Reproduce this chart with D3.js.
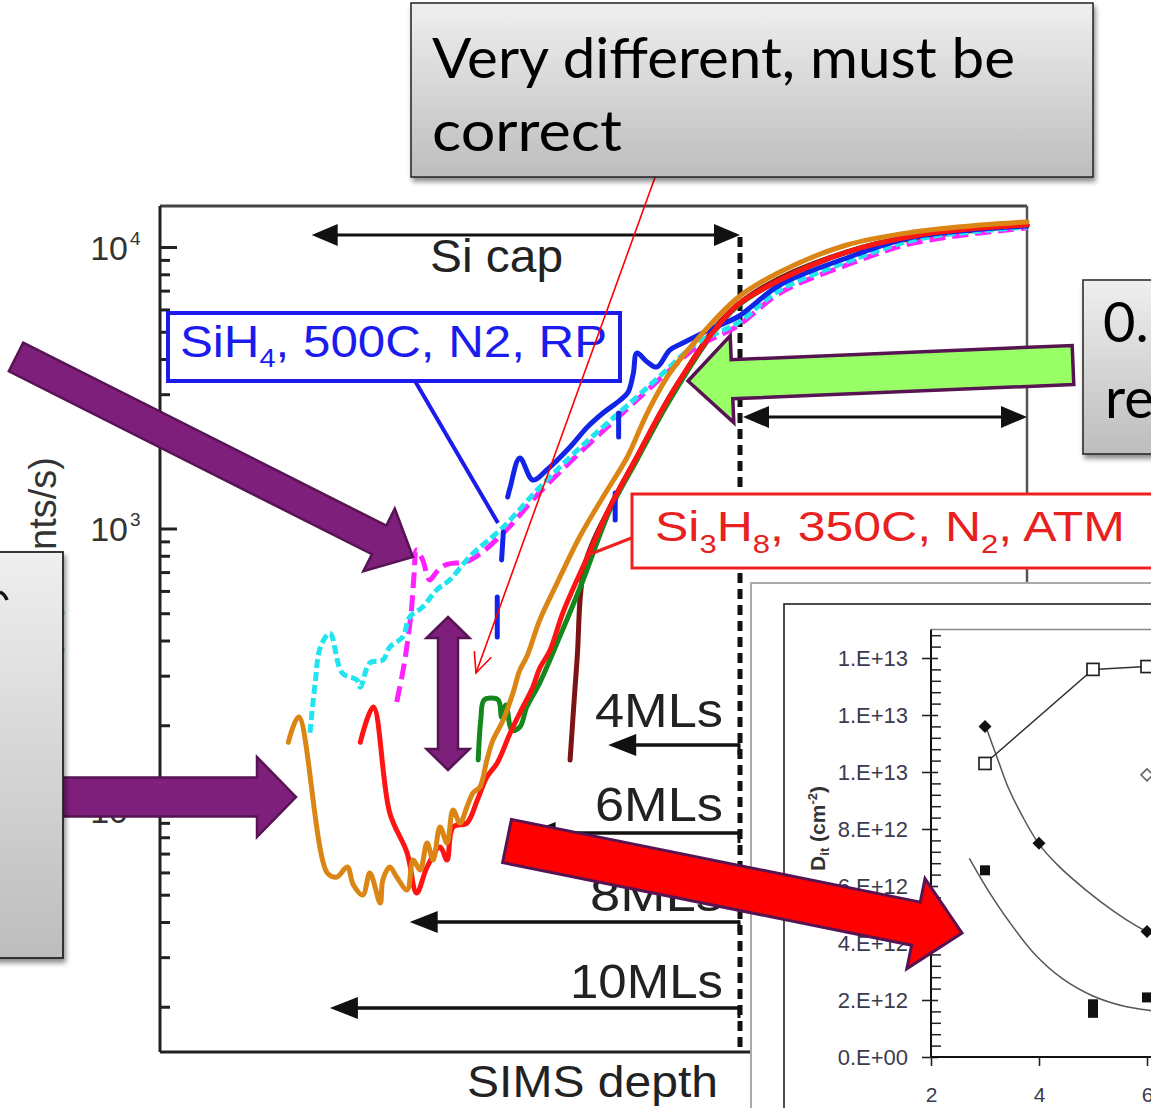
<!DOCTYPE html>
<html><head><meta charset="utf-8">
<script src="https://cdn.jsdelivr.net/npm/d3@7"></script>
<style>
html,body{margin:0;padding:0;background:#fff;overflow:hidden}
svg{display:block}
</style></head><body>
<svg id="c" width="1151" height="1108"></svg>
<script>
// ---------- SIMS profiles: [depth (a.u.), intensity (counts/s)] ----------
const orangeProfile = [[14.8,174],[16.0,214],[19.3,59.7],[20.4,57.8],[21.6,62.7],[22.3,54.2],[23.4,49.9],[24.2,59.7],[25.4,46.7],[25.7,56.4],[26.5,62.7],[27.3,57.8],[28.5,52.0],[29.2,66.4],[30.0,61.2],[30.8,76.4],[31.5,66.4],[32.3,87.0],[33.1,76.4],[33.8,100],[34.6,89.9],[35.4,102.5],[36.1,115],[36.9,120.7],[37.7,150.5],[38.4,177],[39.6,209],[40.7,260],[41.5,314],[42.3,350],[43.8,473],[45.8,640],[48.4,933],[51.1,1294],[53.9,1795],[56.2,2572],[58.8,3567],[61.9,4673],[66.6,6590],[71.5,8152],[79.2,10165],[86.9,11305],[94.6,11974],[100,12270]];
const redProfile = [[23.1,174],[24.6,232],[26.5,97.6],[28.5,70.4],[29.6,50.7],[30.8,62.7],[32.3,73.9],[33.1,66.4],[33.8,87.0],[35.4,89.9],[36.6,108.5],[37.7,131],[38.9,147],[40.4,188],[41.5,221],[43.0,273],[43.8,319],[45.0,370],[46.5,505],[49.3,792],[51.9,1192],[55.0,1795],[57.7,2572],[59.6,3234],[61.1,3809],[63.8,4989],[66.6,6223],[71.5,7633],[79.2,9598],[86.9,10945],[94.6,11680],[100,11974]];
const greenProfile = [[36.7,150.5],[37.0,209],[37.4,246],[39.0,246],[39.4,214],[39.9,236],[40.6,192],[41.5,197],[42.3,232],[43.8,283],[46.1,412],[48.8,656],[51.9,1164],[55.0,1752],[58.8,2861],[63.8,4950],[66.6,6172],[71.5,7633],[79.2,9598],[86.9,10945],[100,11974]];
const maroonProfile = [[47.3,150.5],[48.1,341],[49.0,742],[51.9,1192],[55.0,1795],[59.6,3234],[66.6,6223],[79.2,9598],[100,11974]];
const magentaProfile = [[27.3,242],[28.0,309],[28.5,386],[29.0,513],[29.3,684],[29.6,839],[30.3,773],[31.1,656],[31.9,701],[32.9,742],[35.8,773],[39.6,964],[43.5,1315],[47.3,1723],[51.1,2221],[55.0,2861],[58.8,3656],[61.9,4415],[66.6,5240],[71.5,6865],[79.2,8630],[86.9,10330],[100,11680]];
const cyanProfile = [[17.3,188],[17.9,283],[18.5,379],[19.6,425],[21.0,307],[22.7,290],[23.1,273],[24.2,333],[25.7,341],[26.5,379],[28.0,412],[28.8,485],[30.3,526],[31.9,605],[33.4,656],[35.8,799],[39.6,1012],[43.5,1370],[47.3,1795],[51.1,2294],[55.0,2932],[58.8,3747],[61.9,4560],[66.6,5370],[71.5,7034],[79.2,8845],[86.9,10590],[94.6,11400],[100,11780]];
// null marks a gap in the recorded trace
const blueProfile = [[38.9,412],[38.9,571],null,[39.4,773],[39.6,972],null,[40.1,1294],[40.4,1404],[41.5,1780],[43.0,1487],[44.6,1614],[47.3,1948],[49.3,2294],[51.1,2572],[53.1,2861],[54.0,3054],[54.6,3567],[55.0,4201],[56.2,3904],[57.3,3747],[58.8,4305],[60.3,4560],[63.8,5157],[66.6,5640],[71.5,7328],[79.2,9140],[86.9,10850],[100,11870],null,[52.9,2572],[52.9,2113],null,[52.5,1337],[52.5,1072]];

const yMajor = [100, 1000, 10000];
const yExponents = ["2", "3", "4"];
const mlLabels = ["4MLs", "6MLs", "8MLs", "10MLs"];
const mlDepth = [51.7, 42.4, 28.8, 19.6];
const capStartDepth = 17.5, capEndDepth = 66.9;

// ---------- Dit inset: [monolayers, Dit (cm^-2)] ----------
const insetOpenSq = [[3,10.3e12],[5,13.6e12],[6,13.7e12]];
const insetFilledDiamond = [[3,11.6e12],[4,7.5e12],[6,4.4e12]];
const insetOpenDiamond = [[6,9.9e12]];
const insetFilledSq = [[3,6.55e12],[5,1.85e12],[5,1.55e12],[6,2.09e12]];
const insetFitDiamond = [[3.02,11.58e12],[3.25,10.37e12],[3.44,9.41e12],[3.69,8.46e12],[4.0,7.47e12],[4.38,6.67e12],[4.88,5.84e12],[5.38,5.12e12],[5.81,4.59e12],[6.03,4.37e12],[6.3,4.1e12]];
const insetFitSq = [[2.71,6.97e12],[3.06,5.84e12],[3.44,4.77e12],[3.94,3.57e12],[4.44,2.74e12],[5.0,2.14e12],[5.56,1.79e12],[6.14,1.61e12],[6.4,1.55e12]];
const insetYTicks = [0,2e12,4e12,6e12,8e12,10e12,12e12,14e12];
const insetYLabels = ["0.E+00","2.E+12","4.E+12","6.E+12","8.E+12","1.E+13","1.E+13","1.E+13"];
const insetXTicks = [2,4,6,8];

const FONT = "'Liberation Sans', Arial, sans-serif";
const svg = d3.select("#c");
const defs = svg.append("defs");
const g1 = defs.append("linearGradient").attr("id","boxg").attr("x1",0).attr("y1",0).attr("x2",0).attr("y2",1);
g1.append("stop").attr("offset","0%").attr("stop-color","#efefef");
g1.append("stop").attr("offset","100%").attr("stop-color","#bdbdbd");
defs.append("filter").attr("id","sh").attr("x","-5%").attr("y","-5%").attr("width","115%").attr("height","125%")
  .append("feDropShadow").attr("dx",2).attr("dy",4).attr("stdDeviation",2.5).attr("flood-color","#000").attr("flood-opacity",0.45);

svg.append("rect").attr("width",1151).attr("height",1108).attr("fill","#fff");

// ---------- main scales ----------
const x = d3.scaleLinear().domain([0,100]).range([160,1027]);
const y = d3.scaleLog().domain([13.81,13986]).range([1052,206]);

// y-axis title (mostly covered by the text box on the left)
svg.append("text").attr("transform","translate(56,457) rotate(-90)")
  .attr("text-anchor","end").attr("font-family",FONT).attr("font-size",38).attr("fill","#333")
  .text("Intensity (counts/s)");

// frame
const frame = svg.append("g").attr("stroke","#222").attr("stroke-width",3);
frame.append("line").attr("x1",160).attr("y1",206).attr("x2",1027).attr("y2",206).attr("stroke","#444");
frame.append("line").attr("x1",160).attr("y1",206).attr("x2",160).attr("y2",1052);
frame.append("line").attr("x1",1027).attr("y1",206).attr("x2",1027).attr("y2",590).attr("stroke","#555").attr("stroke-width",2.5);
frame.append("line").attr("x1",160).attr("y1",1052).attr("x2",751).attr("y2",1052);

// y ticks (log)
const yMinor = [];
[10,100,1000].forEach(b => { for (let m=2;m<=9;m++){ const v=m*b; if (v>y.domain()[0] && v<y.domain()[1]) yMinor.push(v);} });
const axMinor = svg.append("g").attr("transform","translate(160,0)")
  .call(d3.axisRight(y).tickValues(yMinor).tickSize(10).tickFormat(""));
const axMajor = svg.append("g").attr("transform","translate(160,0)")
  .call(d3.axisRight(y).tickValues(yMajor).tickSize(17).tickFormat(""));
[axMinor, axMajor].forEach(a => { a.select(".domain").remove(); a.selectAll("line").attr("stroke","#222").attr("stroke-width",3); });
yMajor.forEach((v,i) => {
  svg.append("text").attr("x",128).attr("y",y(v)+13).attr("text-anchor","end")
    .attr("font-family",FONT).attr("font-size",34).attr("fill","#333").text("10");
  svg.append("text").attr("x",130).attr("y",y(v)-2).attr("font-family",FONT).attr("font-size",19).attr("fill","#333").text(yExponents[i]);
});

// arrow helper: polygon with shaft width sw, head width hw, head length hl
function arrowPts(x0,y0,x1,y1,sw,hw,hl,dbl){
  const dx=x1-x0, dy=y1-y0, L=Math.hypot(dx,dy), ux=dx/L, uy=dy/L, nx=-uy, ny=ux;
  const P=(px,py,n)=>[px+nx*n, py+ny*n];
  const b1x=x1-ux*hl, b1y=y1-uy*hl;
  let pts;
  if (dbl){
    const b0x=x0+ux*hl, b0y=y0+uy*hl;
    pts=[[x0,y0],P(b0x,b0y,-hw/2),P(b0x,b0y,-sw/2),P(b1x,b1y,-sw/2),P(b1x,b1y,-hw/2),[x1,y1],P(b1x,b1y,hw/2),P(b1x,b1y,sw/2),P(b0x,b0y,sw/2),P(b0x,b0y,hw/2)];
  } else {
    pts=[P(x0,y0,-sw/2),P(b1x,b1y,-sw/2),P(b1x,b1y,-hw/2),[x1,y1],P(b1x,b1y,hw/2),P(b1x,b1y,sw/2),P(x0,y0,sw/2)];
  }
  return pts.map(p=>p[0].toFixed(1)+","+p[1].toFixed(1)).join(" ");
}

// Si cap span and substrate span
const xCap = x(capEndDepth);
svg.append("polygon").attr("points",arrowPts(x(capStartDepth),235,xCap,235,3,22,26,true)).attr("fill","#111");
svg.append("polygon").attr("points",arrowPts(xCap+3,417,x(100),417,3,22,26,true)).attr("fill","#111");
svg.append("line").attr("x1",xCap).attr("y1",237).attr("x2",xCap).attr("y2",1052)
  .attr("stroke","#111").attr("stroke-width",5).attr("stroke-dasharray","10,6");
svg.append("text").attr("x",430).attr("y",272).attr("font-family",FONT).attr("font-size",46).attr("fill","#222")
  .attr("textLength",133).attr("lengthAdjust","spacingAndGlyphs").text("Si cap");

// monolayer depth markers
const mlY = [745, 833, 922, 1008];
const mlTextY = [727, 821, 911, 998];
const mlTextX = [595, 595, 590, 570];
mlLabels.forEach((lab,i) => {
  svg.append("polygon").attr("points",arrowPts(xCap,mlY[i],x(mlDepth[i]),mlY[i],3.5,22,28,false)).attr("fill","#111");
  svg.append("line").attr("x1",xCap-1).attr("y1",mlY[i]-1.5).attr("x2",xCap-1).attr("y2",mlY[i]+10).attr("stroke","#111").attr("stroke-width",3);
  svg.append("text").attr("x",mlTextX[i]).attr("y",mlTextY[i]).attr("font-family",FONT).attr("font-size",48).attr("fill","#222")
    .attr("textLength",723-mlTextX[i]).attr("lengthAdjust","spacingAndGlyphs").text(lab);
});
svg.append("text").attr("x",467).attr("y",1097).attr("font-family",FONT).attr("font-size",45).attr("fill","#222")
  .attr("textLength",251).attr("lengthAdjust","spacingAndGlyphs").text("SIMS depth");

// ---------- profiles ----------
const line = d3.line().defined(d => d !== null).x(d => x(d[0])).y(d => y(d[1])).curve(d3.curveCatmullRom.alpha(0.5));
const seriesDefs = [
  {pts: maroonProfile, color:"#7d1414"},
  {pts: greenProfile, color:"#13881d"},
  {pts: magentaProfile, color:"#ff22ff", dash:"16,7"},
  {pts: cyanProfile, color:"#22e4ee", dash:"9,4"},
  {pts: blueProfile, color:"#1224e6"},
  {pts: redProfile, color:"#ff1414"},
  {pts: orangeProfile, color:"#db8614"}
];
seriesDefs.forEach(s => {
  svg.append("path").attr("d", line(s.pts)).attr("fill","none").attr("stroke",s.color)
    .attr("stroke-width",5).attr("stroke-linejoin","round").attr("stroke-linecap", s.dash ? "butt" : "round")
    .attr("stroke-dasharray", s.dash || null);
});

// ---------- legend call-outs ----------
svg.append("line").attr("x1",415).attr("y1",381).attr("x2",498).attr("y2",523).attr("stroke","#1b1bee").attr("stroke-width",4);
svg.append("rect").attr("x",168).attr("y",313).attr("width",452).attr("height",68).attr("fill","#fff").attr("stroke","#1b1bee").attr("stroke-width",4);
const tb = svg.append("text").attr("x",180).attr("y",357).attr("font-family",FONT).attr("font-size",44).attr("fill","#1b1bee")
  .attr("textLength",427).attr("lengthAdjust","spacingAndGlyphs");
tb.append("tspan").text("SiH");
tb.append("tspan").attr("font-size",26).attr("dy",10).text("4");
tb.append("tspan").attr("dy",-10).text(", 500C, N2, RP");

svg.append("line").attr("x1",634).attr("y1",537).attr("x2",588).attr("y2",555).attr("stroke","#ee2020").attr("stroke-width",3);
svg.append("rect").attr("x",632).attr("y",494).attr("width",600).attr("height",74).attr("fill","#fff").attr("stroke","#ee2020").attr("stroke-width",3);
const tr = svg.append("text").attr("x",655).attr("y",541).attr("font-family",FONT).attr("font-size",42).attr("fill","#e82020")
  .attr("textLength",470).attr("lengthAdjust","spacingAndGlyphs");
tr.append("tspan").text("Si");
tr.append("tspan").attr("font-size",26).attr("dy",12).text("3");
tr.append("tspan").attr("dy",-12).text("H");
tr.append("tspan").attr("font-size",26).attr("dy",12).text("8");
tr.append("tspan").attr("dy",-12).text(", 350C, N");
tr.append("tspan").attr("font-size",26).attr("dy",12).text("2");
tr.append("tspan").attr("dy",-12).text(", ATM");

// ---------- Dit inset ----------
const xi = d3.scaleLinear().domain([2,10]).range([931,1363]);
const yi = d3.scaleLinear().domain([0,15e12]).range([1057,629.5]);
const ins = svg.append("g");
ins.append("rect").attr("x",751).attr("y",583).attr("width",520).attr("height",600).attr("fill","#fff").attr("stroke","#aaa").attr("stroke-width",2);
ins.append("rect").attr("x",784).attr("y",604).attr("width",500).attr("height",600).attr("fill","#fff").attr("stroke","#222").attr("stroke-width",1.6);
ins.append("line").attr("x1",931).attr("y1",yi(15e12)).attr("x2",1160).attr("y2",yi(15e12)).attr("stroke","#888").attr("stroke-width",1.5);
const iMinor = d3.range(0,15.01e12,0.4e12).filter(v => !insetYTicks.some(t => Math.abs(t-v)<1e9));
ins.append("g").attr("transform","translate(931,0)").call(d3.axisRight(yi).tickValues(iMinor).tickSize(10).tickFormat(""))
  .call(a => { a.select(".domain").remove(); a.selectAll("line").attr("stroke","#222").attr("stroke-width",1.5); });
ins.append("g").attr("transform","translate(931,0)")
  .call(d3.axisLeft(yi).tickValues(insetYTicks).tickSize(9).tickPadding(14).tickFormat((d,i) => insetYLabels[i]))
  .call(a => {
    a.select(".domain").attr("stroke","#111").attr("stroke-width",2).attr("d","M0,"+yi(15e12)+"V"+yi(0));
    a.selectAll("line").attr("stroke","#222").attr("stroke-width",1.6).attr("x2",7).attr("x1",-9);
    a.selectAll("text").attr("font-family",FONT).attr("font-size",22).attr("fill","#3b3b50");
  });
ins.append("g").attr("transform","translate(0,1057)")
  .call(d3.axisBottom(xi).tickValues(insetXTicks).tickSize(9).tickPadding(21))
  .call(a => {
    a.select(".domain").attr("stroke","#111").attr("stroke-width",2).attr("d","M931,0H1160");
    a.selectAll("line").attr("stroke","#222").attr("stroke-width",1.6);
    a.selectAll("text").attr("font-family",FONT).attr("font-size",21).attr("fill","#3b3b50");
  });
const yl = ins.append("text").attr("transform","translate(825,786) rotate(-90)").attr("text-anchor","end")
  .attr("font-family",FONT).attr("font-size",21).attr("font-weight","bold").attr("fill","#333");
yl.append("tspan").text("D");
yl.append("tspan").attr("font-size",13).attr("dy",4).text("it");
yl.append("tspan").attr("dy",-4).text(" (cm");
yl.append("tspan").attr("font-size",13).attr("dy",-8).text("-2");
yl.append("tspan").attr("dy",8).text(")");

const lin = d3.line().x(d => xi(d[0])).y(d => yi(d[1]));
const smooth = d3.line().x(d => xi(d[0])).y(d => yi(d[1])).curve(d3.curveCatmullRom.alpha(0.5));
ins.append("path").attr("d",smooth(insetFitDiamond)).attr("fill","none").attr("stroke","#555").attr("stroke-width",1.5);
ins.append("path").attr("d",smooth(insetFitSq)).attr("fill","none").attr("stroke","#555").attr("stroke-width",1.5);
ins.append("path").attr("d",lin(insetOpenSq)).attr("fill","none").attr("stroke","#333").attr("stroke-width",1.5);
ins.selectAll(".osq").data(insetOpenSq).join("rect").attr("x",d=>xi(d[0])-6).attr("y",d=>yi(d[1])-6)
  .attr("width",12).attr("height",12).attr("fill","#fff").attr("stroke","#222").attr("stroke-width",1.7);
ins.selectAll(".fsq").data(insetFilledSq).join("rect").attr("x",d=>xi(d[0])-5).attr("y",d=>yi(d[1])-5)
  .attr("width",10).attr("height",10).attr("fill","#111");
const dia = r => `M0,${-r}L${r},0L0,${r}L${-r},0Z`;
ins.selectAll(".fd").data(insetFilledDiamond).join("path").attr("d",dia(6.5))
  .attr("transform",d=>`translate(${xi(d[0])},${yi(d[1])})`).attr("fill","#111");
ins.selectAll(".od").data(insetOpenDiamond).join("path").attr("d",dia(6))
  .attr("transform",d=>`translate(${xi(d[0])},${yi(d[1])})`).attr("fill","#fff").attr("stroke","#666").attr("stroke-width",1.6);

// ---------- annotations ----------
// thin red pointer from the title box
svg.append("line").attr("x1",662).attr("y1",158).attr("x2",476).attr("y2",673).attr("stroke","#ff0000").attr("stroke-width",1.6);
svg.append("polyline").attr("points","474.3,651.1 476,673 491.3,657.3").attr("fill","none").attr("stroke","#ff0000").attr("stroke-width",1.6);

const PURPLE = "#7e1f7b", PURPLE_EDGE = "#571453";
svg.append("polygon").attr("points",arrowPts(16,357,413,557,32,70,38,false)).attr("fill",PURPLE).attr("stroke",PURPLE_EDGE).attr("stroke-width",2.5);
svg.append("polygon").attr("points",arrowPts(30,797,296,797,39,80,39,false)).attr("fill",PURPLE).attr("stroke",PURPLE_EDGE).attr("stroke-width",2.5);
svg.append("polygon").attr("points",arrowPts(448,617,448,770,20,43,21,true)).attr("fill",PURPLE).attr("stroke",PURPLE_EDGE).attr("stroke-width",2.5);
svg.append("polygon").attr("points",arrowPts(1073,365,688,381,39,87,44,false)).attr("fill","#99ff66").attr("stroke",PURPLE_EDGE).attr("stroke-width",3.5);
svg.append("polygon").attr("points",arrowPts(507,841,962,933,44,92,47,false)).attr("fill","#ff0000").attr("stroke",PURPLE_EDGE).attr("stroke-width",3);

// text boxes
const tbox = svg.append("g").attr("filter","url(#sh)");
tbox.append("rect").attr("x",411).attr("y",3).attr("width",682).attr("height",174).attr("fill","url(#boxg)").attr("stroke","#222").attr("stroke-width",1.5);
svg.append("text").attr("x",432).attr("y",78).attr("font-family","Lato, 'Open Sans', sans-serif").attr("font-size",56).attr("fill","#000")
  .attr("textLength",583).attr("lengthAdjust","spacingAndGlyphs").text("Very different, must be");
svg.append("text").attr("x",432).attr("y",151).attr("font-family","Lato, 'Open Sans', sans-serif").attr("font-size",56).attr("fill","#000")
  .attr("textLength",190).attr("lengthAdjust","spacingAndGlyphs").text("correct");

const lbox = svg.append("g").attr("filter","url(#sh)");
lbox.append("rect").attr("x",-10).attr("y",552).attr("width",73).attr("height",406).attr("fill","url(#boxg)").attr("stroke","#222").attr("stroke-width",1.8);
svg.append("path").attr("d","M0,592 Q5,594 7,600").attr("fill","none").attr("stroke","#111").attr("stroke-width",3.5);

const rbox = svg.append("g").attr("filter","url(#sh)");
rbox.append("rect").attr("x",1083).attr("y",280).attr("width",100).attr("height",174).attr("fill","url(#boxg)").attr("stroke","#222").attr("stroke-width",1.5);
svg.append("text").attr("x",1103).attr("y",342).attr("font-family","Lato, 'Open Sans', sans-serif").attr("font-size",56).attr("fill","#000").text("0.");
svg.append("text").attr("x",1105).attr("y",418).attr("font-family","Lato, 'Open Sans', sans-serif").attr("font-size",56).attr("fill","#000").text("re");
</script>
</body></html>
